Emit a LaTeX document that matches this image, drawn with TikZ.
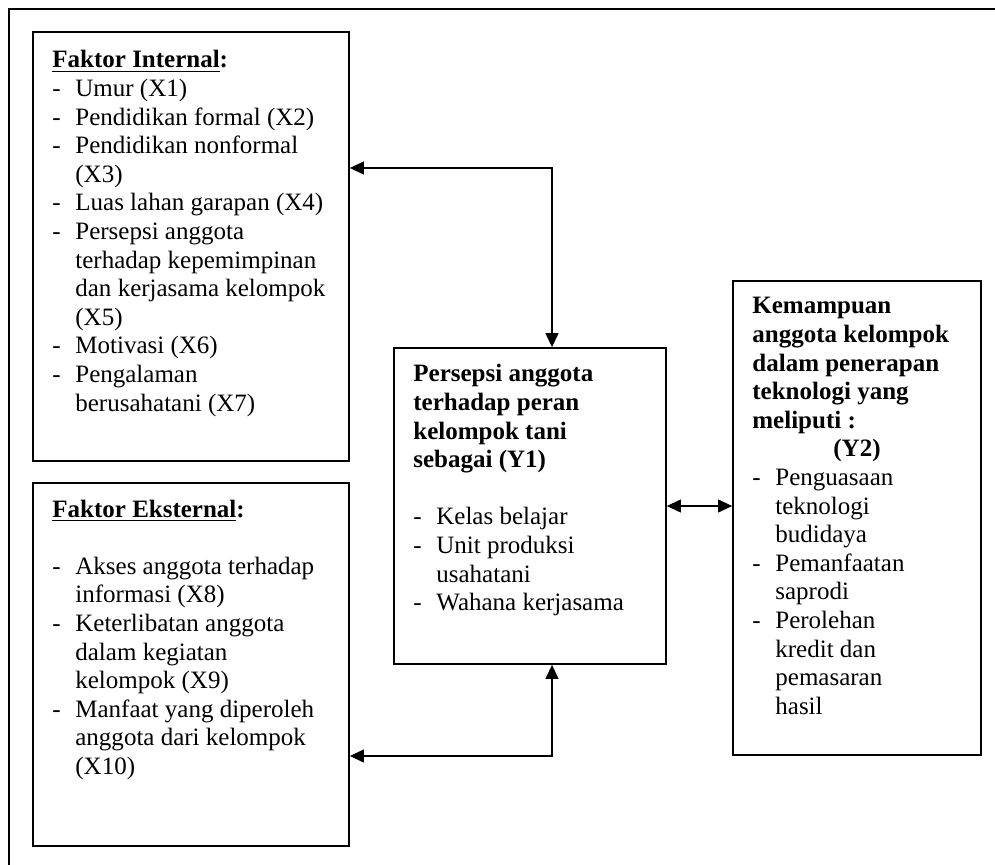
\documentclass[tikz,border=0pt]{standalone}
\usepackage{fontspec}
\setmainfont{Liberation Serif}
\usetikzlibrary{arrows.meta, positioning}
\newcommand{\dl}[1]{\makebox[11.5pt][l]{-}#1}
\newcommand{\cl}[1]{\hspace*{11.5pt}#1}

\begin{document}
\begin{tikzpicture}[x=0.5pt, y=-0.5pt,
    box/.style={draw, line width=0.9pt, inner sep=0pt},
    txt/.style={inner sep=0pt, anchor=base west, font=\fontsize{12.5}{14.3}\selectfont},
    conn/.style={line width=0.6pt, {Triangle[length=7pt,width=6.5pt]}-{Triangle[length=7pt,width=6.5pt]}}]
        \useasboundingbox (0,0) rectangle (995,865);

        % Outer frame
        \draw[line width=1pt] (995,9) -- (9,9) -- (9,865);

        % Boxes
        \node[box, minimum width=158pt, minimum height=214.5pt] (intern) at (191,246.5) {};
        \node[box, minimum width=158pt, minimum height=181.5pt] (extern) at (191,664.5) {};
        \node[box, minimum width=136pt, minimum height=158pt] (peran) at (530,506) {};
        \node[box, minimum width=124pt, minimum height=237pt] (mampu) at (857,518) {};

        % Texts
        \node[txt] (interntxt) at (52,68) {\begin{tabular}[t]{@{}l@{}}
            \underline{\textbf{Faktor Internal}}\textbf{:}\\
            \dl{Umur (X1)}\\
            \dl{Pendidikan formal (X2)}\\
            \dl{Pendidikan nonformal}\\
            \cl{(X3)}\\
            \dl{Luas lahan garapan (X4)}\\
            \dl{Persepsi anggota}\\
            \cl{terhadap kepemimpinan}\\
            \cl{dan kerjasama kelompok}\\
            \cl{(X5)}\\
            \dl{Motivasi (X6)}\\
            \dl{Pengalaman}\\
            \cl{berusahatani (X7)}
        \end{tabular}};
        \node[txt] (externtxt) at (52,517) {\begin{tabular}[t]{@{}l@{}}
            \underline{\textbf{Faktor Eksternal}}\textbf{:}\\
            \\
            \dl{Akses anggota terhadap}\\
            \cl{informasi (X8)}\\
            \dl{Keterlibatan anggota}\\
            \cl{dalam kegiatan}\\
            \cl{kelompok (X9)}\\
            \dl{Manfaat yang diperoleh}\\
            \cl{anggota dari kelompok}\\
            \cl{(X10)}
        \end{tabular}};
        \node[txt] (perantxt) at (413,382) {\begin{tabular}[t]{@{}l@{}}
            \textbf{Persepsi anggota}\\
            \textbf{terhadap peran}\\
            \textbf{kelompok tani}\\
            \textbf{sebagai (Y1)}\\
            \\
            \dl{Kelas belajar}\\
            \dl{Unit produksi}\\
            \cl{usahatani}\\
            \dl{Wahana kerjasama}
        \end{tabular}};
        \node[txt] (mamputxt) at (752,314) {\begin{tabular}[t]{@{}l@{}}
            \textbf{Kemampuan}\\
            \textbf{anggota kelompok}\\
            \textbf{dalam penerapan}\\
            \textbf{teknologi yang}\\
            \textbf{meliputi :}\\
            \hspace*{40.5pt}\textbf{(Y2)}\\
            \dl{Penguasaan}\\
            \cl{teknologi}\\
            \cl{budidaya}\\
            \dl{Pemanfaatan}\\
            \cl{saprodi}\\
            \dl{Perolehan}\\
            \cl{kredit dan}\\
            \cl{pemasaran}\\
            \cl{hasil}
        \end{tabular}};

        % Connections
        \coordinate (topknee) at (552,168);
        \coordinate (botknee) at (552,756);
        \draw[conn] (intern.east |- topknee) -- (topknee) -- (topknee |- peran.north);
        \draw[conn] (extern.east |- botknee) -- (botknee) -- (botknee |- peran.south);
        \draw[conn] (peran.east) -- (peran.east -| mampu.west);
    \end{tikzpicture}
\end{document}
